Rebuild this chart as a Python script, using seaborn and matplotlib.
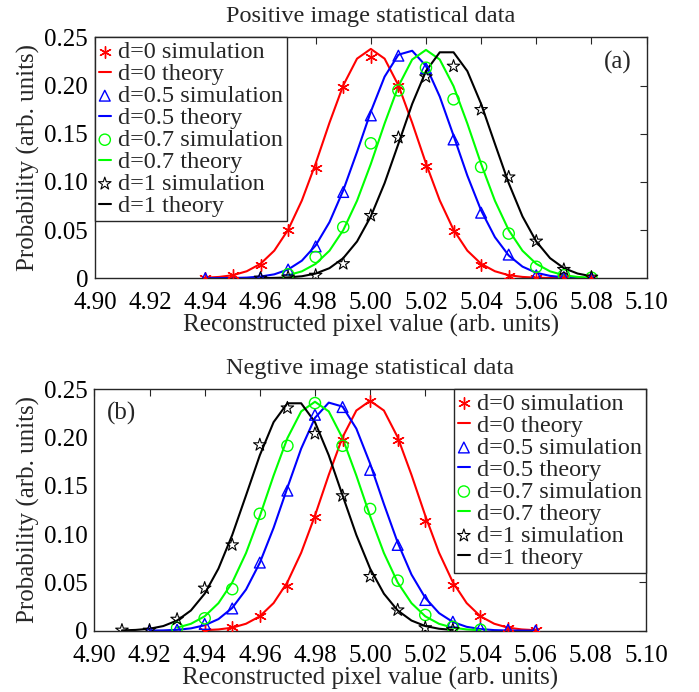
import numpy as np
import matplotlib
matplotlib.use("Agg")
import matplotlib.pyplot as plt
import seaborn as sns

# ── data ──
labels = ["d=0", "d=0.5", "d=0.7", "d=1"]
colors = ["#FF0000", "#0000FF", "#00FF00", "#000000"]
markers = [(6, 2, 0), "^", "o", "*"]

# positive image: simulation points (x step 0.01)
pos_sim_x = [(4.94, 5.08), (4.94, 5.08), (4.97, 5.08), (4.96, 5.08)]
pos_sim_d0 = [0.0005, 0.003, 0.0135, 0.050, 0.114, 0.198, 0.230, 0.200, 0.1165, 0.049, 0.0142, 0.002, 0.0003, 0.0, 0.0]
pos_sim_d05 = [0.0, np.nan, 0.0005, 0.009, 0.033, 0.0895, 0.169, 0.231, 0.218, 0.144, 0.068, 0.0245, 0.003, 0.001, 0.0]
pos_sim_d07 = [0.004, 0.022, 0.053, 0.140, 0.195, 0.2185, 0.1857, 0.1155, 0.0463, 0.0118, 0.003, 0.0005]
pos_sim_d1 = [0.0, 0.001, 0.003, 0.015, 0.065, 0.146, 0.209, 0.220, 0.175, 0.105, 0.0384, 0.009, 0.001]

# positive image: theory curves (x step 0.005)
pos_th_x = [(4.94, 5.08), (4.94, 5.08), (4.97, 5.08), (4.96, 5.08)]
pos_th_d0 = [0.0005, 0.0013, 0.0031, 0.0072, 0.0149, 0.0286, 0.0502, 0.0807, 0.1191, 0.1613, 0.2002, 0.2279, 0.238,
             0.2279, 0.2002, 0.1613, 0.1191, 0.0807, 0.0502, 0.0286, 0.0149, 0.0072, 0.0031, 0.0013, 0.0005, 0.0002,
             0.0, 0.0, 0.0]
pos_th_d05 = [0.0, 0.0001, 0.0002, 0.0006, 0.0017, 0.0040, 0.0090, 0.0182, 0.0340, 0.0581, 0.0912, 0.1311, 0.1729,
              0.2092, 0.2320, 0.2361, 0.2203, 0.1885, 0.1480, 0.1065, 0.0703, 0.0426, 0.0236, 0.0120, 0.0056, 0.0024,
              0.0009, 0.0003, 0.0001]
pos_th_d07 = [0.0031, 0.0071, 0.0149, 0.0285, 0.0499, 0.0804, 0.1186, 0.1606, 0.1993, 0.2270, 0.237, 0.2270, 0.1993,
              0.1606, 0.1186, 0.0804, 0.0499, 0.0285, 0.0149, 0.0071, 0.0031, 0.0013, 0.0005]
pos_th_d1 = [0.0001, 0.0003, 0.0008, 0.0020, 0.0048, 0.0104, 0.0208, 0.0381, 0.0641, 0.0987, 0.1395, 0.1809, 0.2150,
             0.2345, 0.2345, 0.2150, 0.1809, 0.1395, 0.0987, 0.0641, 0.0381, 0.0208, 0.0104, 0.0048, 0.0020]

# negative image: simulation points (x step 0.01)
neg_sim_x = [(4.94, 5.06), (4.92, 5.06), (4.93, 5.04), (4.91, 5.03)]
neg_sim_d0 = [0.0, 0.004, 0.015, 0.046, 0.1175, 0.1976, 0.238, 0.1976, 0.114, 0.0474, 0.0152, 0.003, 0.0005]
neg_sim_d05 = [0.0, 0.001, 0.007, 0.023, 0.0705, 0.145, 0.2235, 0.2315, 0.1665, 0.0888, 0.0318, 0.0093, 0.0025, 0.001, 0.0]
neg_sim_d07 = [0.003, 0.0128, 0.043, 0.121, 0.1914, 0.2356, 0.1914, 0.126, 0.0518, 0.0163, 0.004, 0.001]
neg_sim_d1 = [0.0005, 0.0005, 0.0118, 0.044, 0.0888, 0.1924, 0.2305, 0.204, 0.1396, 0.056, 0.0214, 0.003, 0.001]

# negative image: theory curves (x step 0.005)
neg_th_x = [(4.94, 5.06), (4.92, 5.06), (4.93, 5.04), (4.91, 5.03)]
neg_th_d0 = [0.0005, 0.0013, 0.0031, 0.0072, 0.0149, 0.0286, 0.0502, 0.0807, 0.1191, 0.1613, 0.2002, 0.2279, 0.238,
             0.2279, 0.2002, 0.1613, 0.1191, 0.0807, 0.0502, 0.0286, 0.0149, 0.0072, 0.0031, 0.0013, 0.0005]
neg_th_d05 = [0.0001, 0.0003, 0.0009, 0.0024, 0.0056, 0.0120, 0.0236, 0.0426, 0.0703, 0.1065, 0.1480, 0.1885, 0.2203,
              0.2361, 0.2320, 0.2092, 0.1729, 0.1311, 0.0912, 0.0581, 0.0340, 0.0182, 0.0090, 0.0040, 0.0017, 0.0006,
              0.0002, 0.0001, 0.0]
neg_th_d07 = [0.0031, 0.0071, 0.0149, 0.0285, 0.0499, 0.0804, 0.1186, 0.1606, 0.1993, 0.2270, 0.237, 0.2270, 0.1993,
              0.1606, 0.1186, 0.0804, 0.0499, 0.0285, 0.0149, 0.0071, 0.0031, 0.0013, 0.0005]
neg_th_d1 = [0.0003, 0.0008, 0.0020, 0.0048, 0.0105, 0.0209, 0.0383, 0.0643, 0.0991, 0.1401, 0.1816, 0.2159, 0.2354,
             0.2354, 0.2159, 0.1816, 0.1401, 0.0991, 0.0643, 0.0383, 0.0209, 0.0105, 0.0048, 0.0020, 0.0008]

x_ticks = [4.90, 4.92, 4.94, 4.96, 4.98, 5.00, 5.02, 5.04, 5.06, 5.08, 5.10]
y_ticks = [0, 0.05, 0.10, 0.15, 0.20, 0.25]
y_ticklabels = ["0", "0.05", "0.10", "0.15", "0.20", "0.25"]

# ── style ──
sns.set_theme(style="white")
plt.rcParams["font.family"] = ["Liberation Serif", "DejaVu Serif"]
FS = 18      # ticks / axis labels
FS_T = 17.5  # titles
FS_L = 17.5  # legend

fig = plt.figure(figsize=(6.99, 6.92), dpi=100)
ax_pos = fig.add_axes([0.136, 0.598, 0.789, 0.348])
ax_neg = fig.add_axes([0.135, 0.0886, 0.789, 0.349])

marker_kw = [
    dict(s=70, linewidth=1.0),
    dict(s=60, facecolor="none", linewidth=1.0),
    dict(s=65, facecolor="none", linewidth=1.0),
    dict(s=90, facecolor="none", linewidth=0.8),
]


def draw_panel(ax, sim_x, sims, th_x, ths):
    for i in range(4):
        xs = np.linspace(sim_x[i][0], sim_x[i][1], len(sims[i]))
        kw = dict(marker_kw[i])
        if "facecolor" in kw:
            kw["edgecolor"] = colors[i]
        sns.scatterplot(x=xs, y=sims[i], marker=markers[i], color=colors[i], ax=ax,
                        label=f"{labels[i]} simulation", zorder=3, **kw)
        xt = np.linspace(th_x[i][0], th_x[i][1], len(ths[i]))
        sns.lineplot(x=xt, y=ths[i], color=colors[i], linewidth=1.5, ax=ax,
                     label=f"{labels[i]} theory", zorder=2)
    ax.set_xlim(4.90, 5.10)
    ax.set_ylim(0, 0.25)
    ax.set_xticks(x_ticks)
    ax.set_xticklabels([f"{t:.2f}" for t in x_ticks])
    ax.set_yticks(y_ticks)
    ax.set_yticklabels(y_ticklabels)
    ax.tick_params(direction="in", top=True, right=True, length=5, width=0.8,
                   labelsize=FS, colors="#262626", labelcolor="black")
    ax.tick_params(axis="x", pad=10)
    ax.tick_params(axis="y", pad=5)
    for sp in ax.spines.values():
        sp.set_color("#262626")
        sp.set_linewidth(1.0)
    ax.set_xlabel("Reconstructed pixel value (arb. units)", fontsize=FS, labelpad=0)
    ax.set_ylabel("Probability (arb. units)", fontsize=FS, labelpad=3)
    # legend order: sim, theory, sim, theory ...
    h, l = ax.get_legend_handles_labels()
    order = []
    for lab in labels:
        order += [l.index(f"{lab} simulation"), l.index(f"{lab} theory")]
    return [h[k] for k in order], [l[k] for k in order]


leg_kw = dict(borderaxespad=0, fontsize=FS_L, handlelength=0.5, handletextpad=0.3,
              labelspacing=0.0, borderpad=0.15, fancybox=False, framealpha=1,
              edgecolor="#262626", scatterpoints=1)

h, l = draw_panel(ax_pos, pos_sim_x, [pos_sim_d0, pos_sim_d05, pos_sim_d07, pos_sim_d1],
                  pos_th_x, [pos_th_d0, pos_th_d05, pos_th_d07, pos_th_d1])
leg = ax_pos.legend(h, l, loc="upper left", **leg_kw)
leg.get_frame().set_linewidth(1.0)
ax_pos.set_title("Positive image statistical data", fontsize=FS_T, pad=11)
ax_pos.text(0.947, 0.895, "(a)", transform=ax_pos.transAxes, fontsize=FS, ha="center", va="center")

h, l = draw_panel(ax_neg, neg_sim_x, [neg_sim_d0, neg_sim_d05, neg_sim_d07, neg_sim_d1],
                  neg_th_x, [neg_th_d0, neg_th_d05, neg_th_d07, neg_th_d1])
leg = ax_neg.legend(h, l, loc="upper right", **leg_kw)
leg.get_frame().set_linewidth(1.0)
ax_neg.set_title("Negtive image statistical data", fontsize=FS_T, pad=11)
ax_neg.text(0.05, 0.90, "(b)", transform=ax_neg.transAxes, fontsize=FS, ha="center", va="center")

fig.savefig("out.png", dpi=100)
